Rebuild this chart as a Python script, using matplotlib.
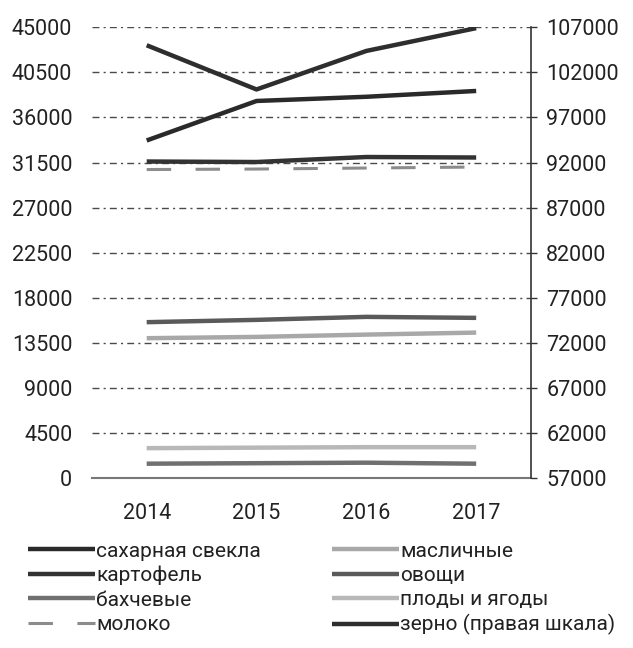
import matplotlib
matplotlib.use("Agg")
import matplotlib.pyplot as plt

years = ["2014", "2015", "2016", "2017"]
sugar_beet = [33700, 37640, 38060, 38640]
potato = [31600, 31550, 32050, 32000]
melons = [1450, 1500, 1550, 1450]
milk = [30800, 30850, 30950, 31050]
oilseeds = [13970, 14100, 14330, 14530]
vegetables = [15570, 15800, 16100, 16000]
fruits = [3000, 3050, 3100, 3100]
grain = [105000, 100100, 104370, 106900]

left_ticks = [0, 4500, 9000, 13500, 18000, 22500, 27000, 31500, 36000, 40500, 45000]
right_ticks = [57000, 62000, 67000, 72000, 77000, 82000, 87000, 92000, 97000, 102000, 107000]

labels = ["сахарная свекла", "картофель", "бахчевые", "молоко",
          "масличные", "овощи", "плоды и ягоды", "зерно (правая шкала)"]

plt.rcParams['font.family'] = ['Roboto', 'DejaVu Sans']
FS = 15.5

fig = plt.figure(figsize=(6.33, 6.48), dpi=100)
ax = fig.add_axes([0.145, 0.262, 0.694, 0.696])
ax2 = ax.twinx()

x = list(range(len(years)))
lw = 3.2
h = []
h += ax.plot(x, sugar_beet, color="#2a2a2a", lw=lw, solid_capstyle="butt")
h += ax.plot(x, potato, color="#333333", lw=lw, solid_capstyle="butt")
h += ax.plot(x, melons, color="#707070", lw=lw, solid_capstyle="butt")
h += ax.plot(x, milk, color="#8c8c8c", lw=2.2, linestyle=(0, (8, 8)))
h += ax.plot(x, oilseeds, color="#a8a8a8", lw=lw, solid_capstyle="butt")
h += ax.plot(x, vegetables, color="#5a5a5a", lw=lw, solid_capstyle="butt")
h += ax.plot(x, fruits, color="#b8b8b8", lw=lw, solid_capstyle="butt")
h += ax2.plot(x, grain, color="#2e2e2e", lw=lw, solid_capstyle="butt")

ax.set_xlim(-0.5, 3.5)
ax.set_ylim(0, 45000)
ax2.set_ylim(57000, 107000)
ax.set_yticks(left_ticks)
ax.set_yticklabels([str(t) for t in left_ticks], fontsize=FS, color="#222222")
ax2.set_yticks(right_ticks)
ax2.set_yticklabels([str(t) for t in right_ticks], fontsize=FS, color="#222222")
ax.set_xticks(x)
ax.set_xticklabels(years, fontsize=FS, color="#222222")

ax.grid(axis="y", color="#4a4a4a", lw=1.0, linestyle=(0, (5, 3, 1.5, 3)))
ax.set_axisbelow(True)

for a in (ax, ax2):
    a.spines["top"].set_visible(False)
    a.spines["left"].set_visible(False)
ax.spines["right"].set_visible(False)
ax2.spines["bottom"].set_visible(False)
ax2.spines["right"].set_color("#333333")
ax2.spines["right"].set_linewidth(1.2)
ax.spines["bottom"].set_color("#777777")
ax.spines["bottom"].set_linewidth(1.5)

ax.tick_params(axis="y", length=0, pad=14)
ax.tick_params(axis="x", length=0, pad=18)
ax2.tick_params(axis="y", length=4, width=1, color="#333333", direction="out", pad=7)

leg = fig.legend(h, labels, ncol=2, loc="upper left", bbox_to_anchor=(0.028, 0.18),
                 frameon=False, fontsize=15, handlelength=3.2, handletextpad=0.08,
                 labelspacing=0.25, columnspacing=3.4, borderpad=0)
for t in leg.get_texts():
    t.set_color("#222222")

fig.savefig("out.png", dpi=100)
